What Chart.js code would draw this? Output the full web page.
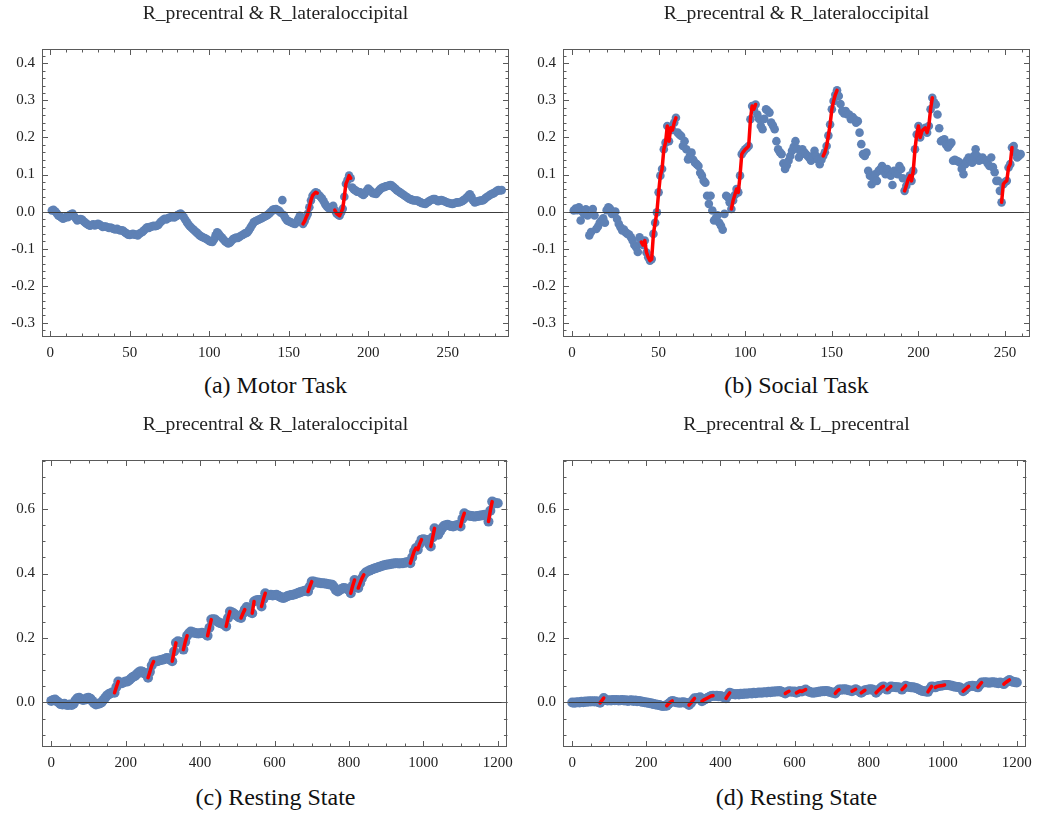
<!DOCTYPE html>
<html><head><meta charset="utf-8">
<script src="https://cdn.jsdelivr.net/npm/chart.js@4.4.1/dist/chart.umd.min.js"></script>
<style>
body{margin:0;background:#fff;width:1039px;height:813px;position:relative;overflow:hidden;font-family:"Liberation Serif","Times New Roman",serif;}
.pane{position:absolute;}
.pane canvas{display:block}
.ttl{position:absolute;text-align:center;font-size:19.6px;line-height:19px;color:#222;white-space:nowrap}
.cap{position:absolute;text-align:center;font-size:24px;line-height:24px;color:#111;white-space:nowrap}
</style></head><body>
<div class="pane" style="left:0;top:0;width:520px;height:365px"><canvas id="ca" width="520" height="365"></canvas></div>
<div class="pane" style="left:520px;top:0;width:519px;height:365px"><canvas id="cb" width="519" height="365"></canvas></div>
<div class="pane" style="left:0;top:410px;width:520px;height:365px"><canvas id="cc" width="520" height="365"></canvas></div>
<div class="pane" style="left:520px;top:410px;width:519px;height:365px"><canvas id="cd" width="519" height="365"></canvas></div>
<div class="ttl" id="ta" style="left:42px;top:3px;width:467px"></div>
<div class="ttl" id="tb" style="left:563px;top:3px;width:467px"></div>
<div class="ttl" id="tc" style="left:42px;top:414px;width:467px"></div>
<div class="ttl" id="td" style="left:563px;top:414px;width:467px"></div>
<div class="cap" id="pa" style="left:42px;top:373px;width:467px"></div>
<div class="cap" id="pb" style="left:563px;top:373px;width:467px"></div>
<div class="cap" id="pc" style="left:42px;top:785px;width:467px"></div>
<div class="cap" id="pd" style="left:563px;top:785px;width:467px"></div>
<script>
// ---------------- data ----------------
const titles = ["R_precentral & R_lateraloccipital","R_precentral & R_lateraloccipital","R_precentral & R_lateraloccipital","R_precentral & L_precentral"];
const captions = ["(a) Motor Task","(b) Social Task","(c) Resting State","(d) Resting State"];

// (a) Motor task, frames 1..284
const motorValues = [
0.003,0.005,0.001,-0.004,-0.010,-0.012,-0.016,-0.019,-0.017,-0.014,
-0.015,-0.010,-0.007,-0.005,-0.012,-0.018,-0.024,-0.022,-0.020,-0.021,
-0.026,-0.030,-0.033,-0.036,-0.038,-0.036,-0.034,-0.037,-0.035,-0.033,
-0.035,-0.038,-0.041,-0.040,-0.040,-0.042,-0.044,-0.043,-0.045,-0.047,
-0.048,-0.046,-0.049,-0.051,-0.050,-0.052,-0.056,-0.059,-0.062,-0.063,
-0.061,-0.060,-0.062,-0.062,-0.064,-0.060,-0.057,-0.055,-0.050,-0.046,
-0.042,-0.044,-0.041,-0.040,-0.038,-0.039,-0.038,-0.036,-0.030,-0.026,
-0.022,-0.019,-0.021,-0.018,-0.016,-0.015,-0.014,-0.016,-0.012,-0.010,
-0.007,-0.005,-0.009,-0.015,-0.022,-0.029,-0.035,-0.040,-0.044,-0.048,
-0.052,-0.056,-0.060,-0.064,-0.067,-0.069,-0.071,-0.073,-0.076,-0.079,
-0.081,-0.082,-0.075,-0.064,-0.056,-0.060,-0.066,-0.070,-0.075,-0.080,
-0.083,-0.086,-0.084,-0.079,-0.074,-0.072,-0.070,-0.071,-0.068,-0.065,
-0.063,-0.060,-0.058,-0.056,-0.050,-0.043,-0.036,-0.029,-0.026,-0.024,
-0.022,-0.020,-0.018,-0.015,-0.013,-0.011,-0.008,-0.004,0.000,0.005,
0.006,0.007,0.004,0.002,-0.003,0.031,-0.010,-0.018,-0.024,-0.026,
-0.028,-0.030,-0.032,-0.033,-0.028,-0.020,-0.011,-0.022,-0.033,-0.026,
-0.015,-0.006,0.012,0.030,0.043,0.048,0.052,0.050,0.044,0.040,
0.035,0.028,0.020,0.014,0.010,0.008,0.012,0.016,0.004,-0.004,
-0.008,-0.011,-0.002,0.008,0.040,0.075,0.085,0.097,0.090,0.065,
0.060,0.057,0.054,0.053,0.052,0.048,0.045,0.050,0.056,0.062,
0.058,0.054,0.050,0.049,0.048,0.053,0.058,0.062,0.065,0.066,
0.068,0.069,0.070,0.072,0.070,0.066,0.062,0.058,0.055,0.052,
0.049,0.046,0.043,0.040,0.037,0.034,0.033,0.031,0.030,0.030,
0.030,0.027,0.025,0.023,0.022,0.021,0.024,0.027,0.030,0.032,
0.034,0.034,0.031,0.028,0.030,0.031,0.030,0.028,0.026,0.024,
0.023,0.022,0.021,0.022,0.024,0.025,0.025,0.026,0.028,0.031,
0.034,0.038,0.043,0.047,0.040,0.030,0.025,0.026,0.028,0.029,
0.030,0.030,0.033,0.037,0.040,0.043,0.046,0.048,0.050,0.053,
0.056,0.058,0.057,0.058];
const motorRed = [[159,168],[179,189]];

// (b) Social task, frames 1..259
const socialValues = [
0.003,0.008,0.004,0.012,-0.024,0.000,-0.006,0.006,-0.010,-0.064,
-0.055,0.007,-0.010,-0.047,-0.040,-0.030,-0.024,-0.018,-0.030,0.004,
0.012,0.008,-0.006,-0.002,0.000,-0.020,-0.033,-0.042,-0.051,-0.048,
-0.056,-0.060,-0.062,-0.069,-0.078,-0.090,-0.096,-0.109,-0.069,-0.082,
-0.090,-0.078,-0.110,-0.123,-0.132,-0.128,-0.060,-0.030,-0.002,0.052,
0.097,0.115,0.168,0.186,0.231,0.190,0.226,0.220,0.240,0.253,
0.213,0.208,0.204,0.177,0.190,0.168,0.141,0.150,0.159,0.140,
0.132,0.128,0.123,0.105,0.097,0.083,0.078,0.043,0.021,0.043,
0.003,-0.024,-0.018,-0.010,-0.030,-0.038,-0.049,-0.006,0.043,0.039,
0.025,0.007,0.030,0.045,0.061,0.052,0.097,0.155,0.162,0.168,
0.172,0.177,0.249,0.285,0.276,0.289,0.262,0.250,0.231,0.222,
0.250,0.276,0.272,0.267,0.240,0.232,0.222,0.190,0.168,0.160,
0.155,0.130,0.115,0.125,0.137,0.150,0.164,0.175,0.190,0.170,
0.146,0.155,0.168,0.160,0.155,0.150,0.145,0.137,0.150,0.164,
0.150,0.140,0.128,0.140,0.150,0.160,0.177,0.205,0.235,0.276,
0.298,0.315,0.327,0.312,0.290,0.271,0.265,0.271,0.262,0.262,
0.249,0.255,0.249,0.240,0.244,0.213,0.182,0.155,0.150,0.159,
0.110,0.097,0.074,0.090,0.101,0.083,0.110,0.115,0.123,0.110,
0.101,0.115,0.105,0.097,0.072,0.110,0.105,0.101,0.123,0.115,
0.090,0.056,0.070,0.087,0.097,0.083,0.110,0.168,0.208,0.231,
0.200,0.217,0.222,0.226,0.213,0.231,0.276,0.307,0.295,0.289,
0.262,0.225,0.190,0.193,0.195,0.180,0.173,0.180,0.186,0.137,
0.140,0.137,0.135,0.132,0.115,0.101,0.128,0.138,0.146,0.140,
0.132,0.150,0.168,0.150,0.137,0.140,0.146,0.140,0.137,0.130,
0.123,0.146,0.120,0.106,0.083,0.083,0.056,0.025,0.074,0.080,
0.083,0.119,0.128,0.173,0.177,0.160,0.146,0.150,0.155];
const socialRed = [[40,60],[92,106],[145,153],[192,208],[248,254]];

// (c),(d) Resting state, sampled every 5 frames, frames 0..1200
const restStep = 5;
const restLatValues = [
0.005,0.008,0.009,0.004,0.000,-0.005,-0.006,-0.004,-0.007,-0.008,-0.006,-0.008,-0.004,0.006,0.013,0.015,0.010,0.008,0.009,0.013,
0.015,0.012,0.005,-0.002,-0.006,-0.004,-0.003,0.000,0.008,0.015,0.022,0.026,0.029,0.032,0.030,0.048,0.065,0.061,0.060,0.063,
0.065,0.065,0.070,0.075,0.080,0.082,0.088,0.094,0.097,0.095,0.090,0.088,0.077,0.095,0.115,0.127,0.127,0.128,0.130,0.132,
0.133,0.135,0.138,0.137,0.133,0.128,0.158,0.185,0.190,0.188,0.185,0.164,0.188,0.207,0.215,0.220,0.218,0.216,0.215,0.214,
0.215,0.216,0.215,0.212,0.207,0.232,0.257,0.258,0.257,0.252,0.248,0.246,0.244,0.242,0.236,0.262,0.282,0.280,0.277,0.272,
0.268,0.264,0.262,0.276,0.288,0.296,0.292,0.280,0.277,0.313,0.316,0.318,0.318,0.298,0.320,0.339,0.334,0.333,0.334,0.332,
0.333,0.334,0.331,0.328,0.325,0.324,0.327,0.330,0.332,0.333,0.334,0.336,0.338,0.340,0.343,0.344,0.346,0.348,0.344,0.360,
0.375,0.375,0.373,0.372,0.371,0.370,0.370,0.369,0.368,0.367,0.366,0.365,0.358,0.348,0.344,0.348,0.352,0.355,0.354,0.352,
0.350,0.339,0.362,0.380,0.360,0.355,0.370,0.385,0.396,0.403,0.406,0.409,0.412,0.414,0.416,0.418,0.420,0.422,0.424,0.426,
0.427,0.428,0.429,0.430,0.431,0.432,0.432,0.431,0.432,0.432,0.433,0.435,0.436,0.432,0.450,0.468,0.479,0.474,0.492,0.505,
0.506,0.505,0.504,0.492,0.484,0.512,0.540,0.528,0.520,0.530,0.540,0.547,0.550,0.551,0.549,0.547,0.546,0.548,0.550,0.551,
0.546,0.570,0.587,0.582,0.580,0.579,0.578,0.577,0.577,0.578,0.579,0.580,0.581,0.582,0.582,0.561,0.595,0.623,0.620,0.618,
0.618];
const restLatRed = [[170,180],[260,275],[325,335],[355,365],[420,430],[470,480],[510,520],[540,545],[565,575],[690,700],[805,815],[825,840],[965,980],[985,995],[1020,1030],[1100,1110],[1175,1185]];

const restPreValues = [
0.000,-0.001,0.000,0.001,0.000,0.002,0.001,0.003,0.002,0.004,0.003,0.004,0.003,0.004,0.002,-0.001,0.006,0.014,0.008,0.006,
0.007,0.006,0.008,0.007,0.008,0.006,0.007,0.008,0.006,0.007,0.005,0.006,0.007,0.005,0.006,0.004,0.005,0.003,0.002,0.001,
0.000,-0.001,-0.002,-0.003,-0.005,-0.006,-0.007,-0.008,-0.010,-0.011,-0.010,-0.010,-0.004,0.001,0.005,0.003,0.001,0.000,-0.001,0.000,
0.001,-0.001,-0.002,-0.008,-0.002,0.006,0.013,0.013,0.014,0.016,0.004,0.008,0.011,0.014,0.017,0.020,0.021,0.020,0.021,0.019,
0.020,0.018,0.016,0.013,0.022,0.030,0.028,0.026,0.025,0.026,0.025,0.027,0.026,0.028,0.027,0.028,0.029,0.028,0.030,0.029,
0.030,0.031,0.030,0.031,0.032,0.031,0.033,0.032,0.034,0.033,0.035,0.034,0.036,0.033,0.031,0.028,0.032,0.035,0.034,0.033,
0.034,0.030,0.033,0.036,0.034,0.037,0.040,0.036,0.033,0.031,0.030,0.031,0.032,0.033,0.034,0.035,0.035,0.036,0.035,0.033,
0.031,0.030,0.028,0.035,0.040,0.040,0.040,0.041,0.040,0.038,0.037,0.035,0.038,0.041,0.038,0.034,0.030,0.034,0.038,0.039,
0.040,0.041,0.040,0.038,0.030,0.036,0.042,0.047,0.050,0.046,0.040,0.045,0.050,0.049,0.048,0.047,0.047,0.046,0.040,0.046,
0.052,0.050,0.048,0.047,0.047,0.046,0.044,0.041,0.038,0.036,0.035,0.034,0.033,0.042,0.050,0.049,0.047,0.050,0.051,0.052,
0.053,0.054,0.054,0.054,0.053,0.052,0.050,0.049,0.048,0.047,0.044,0.035,0.040,0.045,0.050,0.051,0.052,0.051,0.049,0.047,
0.055,0.062,0.062,0.063,0.062,0.061,0.062,0.063,0.062,0.061,0.060,0.062,0.060,0.057,0.062,0.066,0.070,0.066,0.064,0.063,
0.062];
const restPreRed = [[75,85],[255,270],[315,330],[350,380],[415,425],[575,585],[605,630],[710,720],[755,765],[780,790],[820,840],[850,860],[890,900],[960,970],[980,1005],[1055,1070],[1095,1105],[1165,1180]];

// tick labels
const taskXTicks = [0,50,100,150,200,250];
const taskYTicks = [-0.3,-0.2,-0.1,0.0,0.1,0.2,0.3,0.4];
const restXTicks = [0,200,400,600,800,1000,1200];
const restYTicks = [0.0,0.2,0.4,0.6];

// ---------------- drawing ----------------
const BLUE = '#5E81B5';
const RED = '#FF0000';
const FONT = {family:'"Liberation Serif","Times New Roman",serif', size:15};

const frameTicks = {
  id:'frameTicks',
  afterDatasetsDraw(chart, args, o){
    const {ctx, chartArea:a, scales:{x, y}} = chart;
    ctx.save();
    // zero axis line
    const y0 = Math.round(y.getPixelForValue(0)) + 0.5;
    ctx.strokeStyle = '#3c3c3c'; ctx.lineWidth = 1.1;
    ctx.beginPath(); ctx.moveTo(a.left, y0); ctx.lineTo(a.right, y0); ctx.stroke();
    // frame
    ctx.strokeStyle = '#5a5a5a'; ctx.lineWidth = 1;
    ctx.strokeRect(Math.round(a.left)+0.5, Math.round(a.top)+0.5, Math.round(a.width)-1, Math.round(a.height)-1);
    ctx.beginPath();
    const isMajor = (v, m) => Math.abs(v/m - Math.round(v/m)) < 1e-6;
    // x ticks (bottom & top)
    for (let k = Math.ceil(x.min/o.xMinor); k*o.xMinor <= x.max; k++){
      const v = k*o.xMinor, len = isMajor(v, o.xMajor) ? 6 : 3.5;
      const px = Math.round(x.getPixelForValue(v)) + 0.5;
      ctx.moveTo(px, a.bottom); ctx.lineTo(px, a.bottom - len);
      ctx.moveTo(px, a.top); ctx.lineTo(px, a.top + len);
    }
    // y ticks (left & right)
    for (let k = Math.ceil(y.min/o.yMinor - 1e-9); k*o.yMinor <= y.max + 1e-9; k++){
      const v = k*o.yMinor, len = isMajor(v, o.yMajor) ? 6 : 3.5;
      const py = Math.round(y.getPixelForValue(v)) + 0.5;
      ctx.moveTo(a.left, py); ctx.lineTo(a.left + len, py);
      ctx.moveTo(a.right, py); ctx.lineTo(a.right - len, py);
    }
    ctx.stroke();
    ctx.restore();
  }
};

function makePanel(id, frames, values, redRanges, cfg){
  const pts = values.map((v,i)=>({x:frames[i], y:v}));
  const datasets = redRanges.map(r => ({
    data: pts.filter(p => p.x >= r[0] && p.x <= r[1]),
    showLine:true, borderColor:RED, borderWidth:cfg.redW, pointRadius:0, order:1,
    borderJoinStyle:'round', borderCapStyle:'round'
  }));
  datasets.push({data:pts, showLine:false, pointRadius:cfg.r, pointBackgroundColor:BLUE,
    pointBorderWidth:0, pointBorderColor:BLUE, order:2});
  new Chart(document.getElementById(id), {
    type:'scatter',
    data:{datasets},
    options:{
      responsive:false, animation:false, devicePixelRatio:1,
      layout:{padding:{top:cfg.pt, right:cfg.pr, left:0, bottom:0}},
      plugins:{legend:{display:false}, tooltip:{enabled:false},
        frameTicks:{xMinor:cfg.xMinor, xMajor:cfg.xMajor, yMinor:cfg.yMinor, yMajor:cfg.yMajor}},
      scales:{
        x:{type:'linear', min:cfg.xmin, max:cfg.xmax,
           grid:{display:false, drawTicks:false}, border:{display:false},
           afterBuildTicks: s => { s.ticks = cfg.xTicks.map(v=>({value:v})); },
           afterFit: s => { s.height = cfg.xh; },
           ticks:{padding:7, color:'#222', font:FONT, maxRotation:0, autoSkip:false, callback:v=>String(v)}},
        y:{type:'linear', min:cfg.ymin, max:cfg.ymax,
           grid:{display:false, drawTicks:false}, border:{display:false},
           afterBuildTicks: s => { s.ticks = cfg.yTicks.map(v=>({value:v})); },
           afterFit: s => { s.width = cfg.yw; },
           ticks:{padding:7, color:'#222', font:FONT, autoSkip:false, callback:v=>Number(v).toFixed(1)}}
      }
    },
    plugins:[frameTicks]
  });
}

const motorFrames = motorValues.map((v,i)=>i+1);
const socialFrames = socialValues.map((v,i)=>i+1);
const restFrames = restLatValues.map((v,i)=>i*restStep);

const taskCfg = {xMinor:10, xMajor:50, yMinor:0.02, yMajor:0.1, ymin:-0.338, ymax:0.4385,
  xTicks:taskXTicks, yTicks:taskYTicks, pt:49, xh:28, r:4.3, redW:3.5};
const restCfg = {xMinor:50, xMajor:200, yMinor:0.05, yMajor:0.2, ymin:-0.138, ymax:0.752,
  xmin:-25, xmax:1226, xTicks:restXTicks, yTicks:restYTicks, pt:50, xh:28, r:5, redW:3.5};

makePanel('ca', motorFrames, motorValues, motorRed, Object.assign({}, taskCfg, {xmin:-5.2, xmax:288.6, yw:42, pr:11}));
makePanel('cb', socialFrames, socialValues, socialRed, Object.assign({}, taskCfg, {xmin:-5.2, xmax:264.4, yw:43, pr:9}));
makePanel('cc', restFrames, restLatValues, restLatRed, Object.assign({}, restCfg, {yw:42, pr:11}));
makePanel('cd', restFrames, restPreValues, restPreRed, Object.assign({}, restCfg, {yw:43, pr:9}));

['ta','tb','tc','td'].forEach((id,i)=>{ document.getElementById(id).textContent = titles[i]; });
['pa','pb','pc','pd'].forEach((id,i)=>{ document.getElementById(id).textContent = captions[i]; });
</script>
</body></html>
